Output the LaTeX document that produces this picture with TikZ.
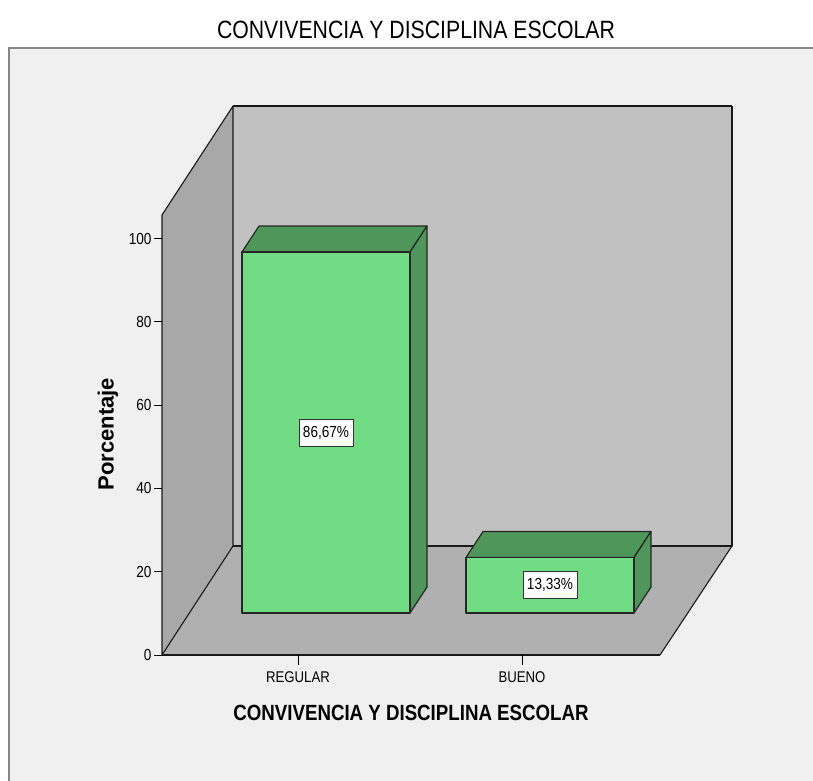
\documentclass[tikz,border=0pt]{standalone}
\usepackage{fontspec}
\setmainfont{Liberation Sans}
\newfontfamily\narrowfont[FakeStretch=0.85]{Liberation Sans}
\usetikzlibrary{calc}
\definecolor{framegray}{RGB}{135,135,135}
\definecolor{panelgray}{RGB}{240,240,240}
\definecolor{wallgray}{RGB}{193,193,193}
\definecolor{sidegray}{RGB}{168,168,168}
\definecolor{floorgray}{RGB}{176,176,176}
\definecolor{barlight}{RGB}{112,221,133}
\definecolor{bardark}{RGB}{78,150,90}
\tikzset{% 
    wall/.style={%
        draw=black!90, line width=1.1pt, line join=round
    }
}
\tikzset{% 
    face/.style={%
        draw=black!85, line width=1.2pt, line join=round
    }
}
\tikzset{% 
    valbox/.style={%
        draw=black!80, fill=white, line width=0.8pt, inner xsep=4pt, minimum height=27pt,
        font=\narrowfont\fontsize{16}{16}\selectfont
    }
}
\tikzstyle{ticklab}=[anchor=east, inner sep=0pt, font=\narrowfont\fontsize{16}{16}\selectfont]
\tikzstyle{catlab}=[inner sep=0pt, font=\narrowfont\fontsize{15.5}{15.5}\selectfont]

\begin{document}
\begin{tikzpicture}[x=1pt,y=-1pt]
  \useasboundingbox (0,0) rectangle (813,780);
  %\draw[step=10pt,gray,very thin] (0,0) grid (813,780);

  % frame
  \draw[framegray, line width=2.5pt, fill=panelgray] (9,48) rectangle (900,900);
  \node (Title) at (416,29.5) {\narrowfont\fontsize{25}{25}\selectfont CONVIVENCIA Y DISCIPLINA ESCOLAR};

  % box corners
  \coordinate (FL) at (162,655);
  \coordinate (FR) at (660,655);
  \coordinate (BL) at (233,546);
  \coordinate (BR) at (732,546);
  \coordinate (FLt) at (162,215);
  \coordinate (BLt) at (233,106);
  \coordinate (BRt) at (732,106);

  \fill[wallgray] (BL) rectangle (BRt);
  \fill[sidegray] (FL) -- (FLt) -- (BLt) -- (BL) -- cycle;
  \fill[floorgray] (FL) -- (BL) -- (BR) -- (FR) -- cycle;
  \draw[wall] (FL) -- (FLt) -- (BLt) -- (BL) -- cycle;
  \draw[wall] (BL) -- (BR) -- (BRt);
  \draw[wall] (BR) -- (FR);
  \draw[wall, line width=2.8pt] (BLt) -- (BRt);
  \draw[wall, line width=2.8pt] (FL) -- (FR);

  % y ticks
  \foreach \v in {0,20,...,100}{
    \draw[line width=1pt] (162,{655-\v*4.165}) -- ++(-8,0) node[ticklab, xshift=-2pt] (T\v) {\v};
  }
  \node[rotate=90, font=\bfseries\fontsize{22}{22}\selectfont] (Ylab) at (108,434) {Porcentaje};

  % bars
  \foreach \xl/\val/\txt/\nm in {242/86.67/{86,67\%}/REG, 466/13.33/{13,33\%}/BUE}{
    \pgfmathsetmacro\xr{\xl+168}
    \pgfmathsetmacro\yt{613-\val*4.165}
    \filldraw[face, fill=bardark] (\xl,\yt) -- ++(17,-26) -- ++(168,0) -- (\xr,\yt) -- cycle;
    \filldraw[face, fill=bardark] (\xr,\yt) -- ++(17,-26) -- ++(0,{\val*4.165}) -- (\xr,613) -- cycle;
    \filldraw[face, fill=barlight] (\xl,613) rectangle (\xr,\yt);
    \node[valbox] (V\nm) at ({\xl+84},{(613+\yt)/2}) {\txt};
  }

  % categories
  \draw[line width=1pt] (298,655) -- (298,665);
  \draw[line width=1pt] (522,655) -- (522,665);
  \node[catlab] (REG) at (298,677) {REGULAR};
  \node[catlab] (BUE) at (522,677) {BUENO};
  \node (Xlab) at (411,713) {\narrowfont\bfseries\fontsize{22}{22}\selectfont CONVIVENCIA Y DISCIPLINA ESCOLAR};
\end{tikzpicture}
\end{document}
